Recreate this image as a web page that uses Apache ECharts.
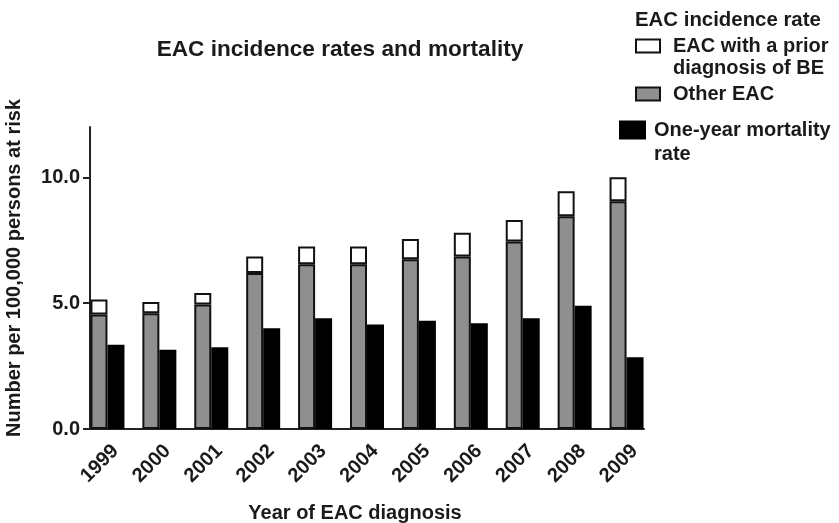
<!DOCTYPE html>
<html>
<head>
<meta charset="utf-8">
<script src="https://cdn.jsdelivr.net/npm/echarts@6/dist/echarts.min.js"></script>
<style>html,body{margin:0;padding:0;background:#fff}#c{width:839px;height:523px}</style>
</head>
<body>
<div id="c"></div>
<script>
var years = ['1999','2000','2001','2002','2003','2004','2005','2006','2007','2008','2009'];
var otherEAC = [4.55, 4.6, 4.95, 6.2, 6.55, 6.55, 6.75, 6.85, 7.45, 8.45, 9.05];
var priorBE = [0.6, 0.45, 0.45, 0.65, 0.7, 0.7, 0.8, 0.95, 0.85, 1.0, 0.95];
var mortality = [3.35, 3.15, 3.25, 4.0, 4.4, 4.15, 4.3, 4.2, 4.4, 4.9, 2.85];
var yTicks = [0, 5, 10];

var FONT = '"Liberation Sans", Arial, sans-serif';
var TXT = '#1a1a1a';
var chart = echarts.init(document.getElementById('c'), null, {renderer: 'canvas'});
var txt = {fontFamily: FONT, fontWeight: 'bold', color: TXT, fontSize: 20};

chart.setOption({
  animation: false,
  backgroundColor: '#fff',
  title: [
    {text: 'EAC incidence rates and mortality', left: 335, textAlign: 'center', top: 32,
     textStyle: Object.assign({}, txt, {fontSize: 22.6, lineHeight: 26})},
    {text: 'EAC incidence rate', left: 635, top: 8, padding: 0,
     textStyle: Object.assign({}, txt, {fontSize: 20.4, lineHeight: 24})}
  ],
  legend: [
    {data: ['EAC with a prior diagnosis of BE'], left: 635, top: 13, padding: 0,
     itemWidth: 24, itemHeight: 13, icon: 'rect',
     formatter: function () { return '\nEAC with a prior\ndiagnosis of BE'; },
     textStyle: Object.assign({}, txt, {lineHeight: 22, padding: [0, 0, 0, 8]})},
    {data: ['Other EAC'], left: 635, top: 83, padding: 0,
     itemWidth: 24, itemHeight: 13, icon: 'rect',
     textStyle: Object.assign({}, txt, {lineHeight: 22, padding: [0, 0, 0, 8]})},
    {data: ['One-year mortality rate'], left: 619, top: 94, padding: 0,
     itemWidth: 25, itemHeight: 17, icon: 'rect',
     formatter: function () { return '\nOne-year mortality\nrate'; },
     textStyle: Object.assign({}, txt, {lineHeight: 24, padding: [0, 0, 0, 4]})}
  ],
  grid: [
    {left: 81.5, right: 186.5, top: 127, bottom: 94, containLabel: false, outerBoundsMode: 'none'},
    {left: 90, right: 195, top: 127, bottom: 94, containLabel: false, outerBoundsMode: 'none'}
  ],
  xAxis: [
    {type: 'category', data: years, gridIndex: 0,
     axisLine: {show: false}, axisTick: {show: false},
     axisLabel: Object.assign({}, txt, {rotate: 45, interval: 0, margin: 8,
       formatter: function (v) { return '{y|' + v + '}'; },
       rich: {y: Object.assign({}, txt, {padding: [27, 2, 0, 0]})}}),
     name: 'Year of EAC diagnosis', nameLocation: 'middle', nameGap: 74,
     nameTextStyle: Object.assign({}, txt, {padding: [0, 24, 0, 0]})},
    {type: 'value', gridIndex: 1, min: 0, max: 1,
     axisLine: {show: true, onZero: false, lineStyle: {color: '#222', width: 2}},
     axisTick: {show: false}, axisLabel: {show: false}, splitLine: {show: false}}
  ],
  yAxis: [
    {type: 'value', gridIndex: 0, min: 0, max: 12, interval: 5, offset: -8.5,
     axisLine: {show: true, lineStyle: {color: '#222', width: 2}},
     axisTick: {show: true, length: 7, lineStyle: {color: '#222', width: 2}, customValues: yTicks},
     axisLabel: Object.assign({}, txt, {margin: 10, customValues: yTicks,
       formatter: function (v) { return v.toFixed(1); }}),
     splitLine: {show: false},
     name: 'Number per 100,000 persons at risk', nameLocation: 'middle', nameGap: 66,
     nameTextStyle: Object.assign({}, txt, {padding: [0, 0, 0, 20]})},
    {type: 'value', gridIndex: 1, min: 0, max: 1, show: false}
  ],
  series: [
    {name: 'Other EAC', type: 'bar', stack: 'inc', data: otherEAC,
     barWidth: 17, barGap: '0%',
     itemStyle: {color: '#8f8f8f', borderColor: '#111', borderWidth: 2}},
    {name: 'EAC with a prior diagnosis of BE', type: 'bar', stack: 'inc', data: priorBE,
     barWidth: 17, barGap: '0%',
     itemStyle: {color: '#ffffff', borderColor: '#111', borderWidth: 2}},
    {name: 'One-year mortality rate', type: 'bar', data: mortality,
     barWidth: 17, barGap: '0%',
     itemStyle: {color: '#000000', borderColor: '#000', borderWidth: 2}}
  ]
});
</script>
</body>
</html>
